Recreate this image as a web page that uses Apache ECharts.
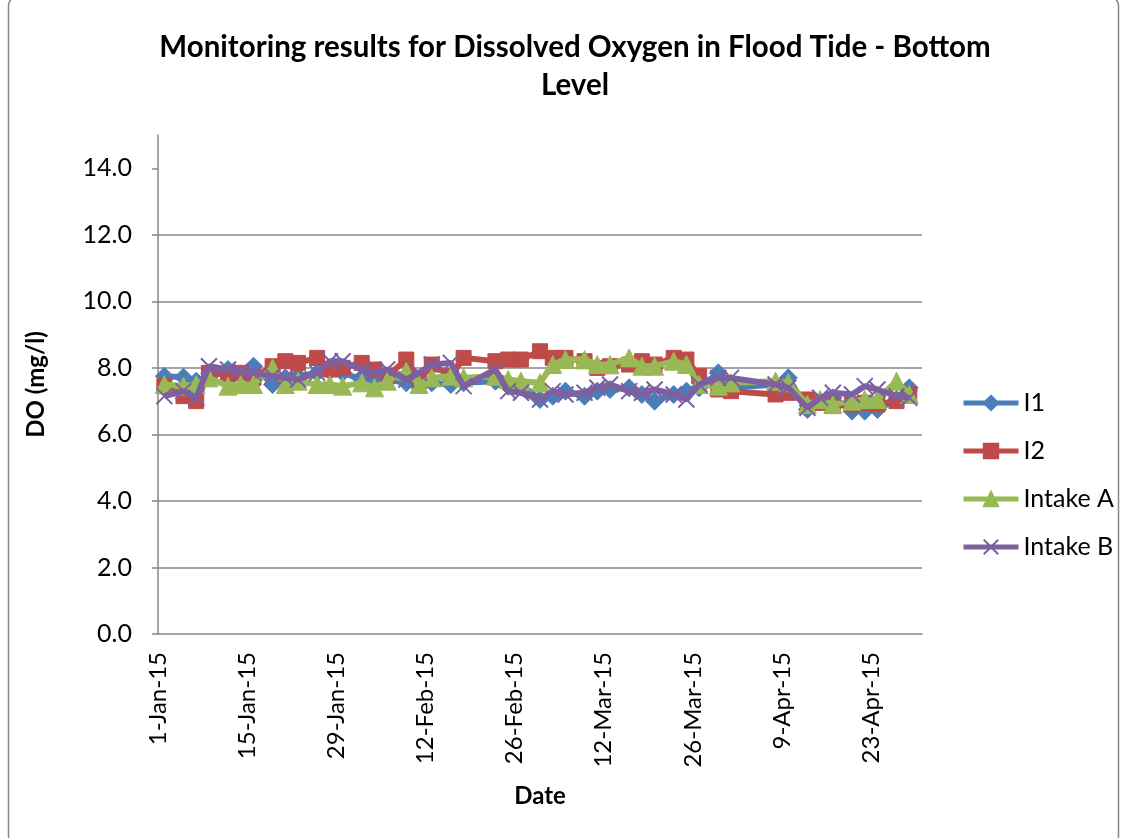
<!DOCTYPE html>
<html>
<head>
<meta charset="utf-8">
<script src="https://cdn.jsdelivr.net/npm/echarts@6/dist/echarts.min.js"></script>
<style>
html, body { margin: 0; padding: 0; background: #fff; }
#chart { width: 1128px; height: 838px; }
</style>
</head>
<body>
<div id="chart"></div>
<script>
// sampling dates (same for all four stations)
const dates = [
  "2015-01-02", "2015-01-05", "2015-01-07", "2015-01-09", "2015-01-12", "2015-01-14", "2015-01-16",
  "2015-01-19", "2015-01-21", "2015-01-23", "2015-01-26", "2015-01-28", "2015-01-30",
  "2015-02-02", "2015-02-04", "2015-02-06", "2015-02-09", "2015-02-11", "2015-02-13", "2015-02-16",
  "2015-02-18", "2015-02-23", "2015-02-25", "2015-02-27",
  "2015-03-02", "2015-03-04", "2015-03-06", "2015-03-09", "2015-03-11", "2015-03-13", "2015-03-16",
  "2015-03-18", "2015-03-20", "2015-03-23", "2015-03-25", "2015-03-27", "2015-03-30",
  "2015-04-01", "2015-04-08", "2015-04-10", "2015-04-13", "2015-04-15", "2015-04-17", "2015-04-20",
  "2015-04-22", "2015-04-24", "2015-04-27", "2015-04-29",
];
const i1 = [
  7.75, 7.72, 7.6, 7.7, 7.95, 7.8, 8.05, 7.5, 7.7, 7.75, 7.85, 7.9, 7.85,
  7.65, 7.6, 7.65, 7.55, 7.6, 7.55, 7.5, 7.55, 7.6, 7.45, 7.5,
  7.05, 7.15, 7.3, 7.15, 7.3, 7.35, 7.4, 7.2, 7.0, 7.2, 7.3, 7.4, 7.85,
  7.4, 7.5, 7.7, 6.75, 7.0, 7.1, 6.7, 6.7, 6.75, 7.05, 7.4,
];
const i2 = [
  7.45, 7.15, 7.0, 7.85, 7.8, 7.85, 7.7, 8.05, 8.2, 8.15, 8.3, 7.95, 8.0,
  8.15, 7.95, 7.75, 8.25, 7.6, 8.1, 7.75, 8.3, 8.2, 8.25, 8.25,
  8.5, 8.3, 8.3, 8.2, 8.0, 8.05, 8.1, 8.2, 8.1, 8.3, 8.25, 7.75, 7.35,
  7.3, 7.2, 7.25, 7.05, 6.95, 6.85, 6.9, 6.95, 6.9, 7.0, 7.2,
];
const intakeA = [
  7.5, 7.45, 7.5, 7.7, 7.45, 7.5, 7.5, 8.0, 7.5, 7.6, 7.5, 7.5, 7.45,
  7.55, 7.4, 7.6, 7.9, 7.5, 7.7, 7.75, 7.7, 7.75, 7.65, 7.6,
  7.55, 8.1, 8.25, 8.25, 8.1, 8.1, 8.3, 8.05, 8.05, 8.2, 8.1, 7.5, 7.45,
  7.55, 7.6, 7.55, 6.9, 7.05, 6.9, 7.0, 7.05, 7.05, 7.6, 7.2,
];
const intakeB = [
  7.15, 7.3, 7.1, 8.05, 7.95, 7.9, 7.85, 7.75, 7.7, 7.65, 7.85, 8.2, 8.2,
  7.95, 7.85, 7.95, 7.65, 7.85, 8.1, 8.15, 7.45, 7.95, 7.3, 7.25,
  7.05, 7.3, 7.2, 7.25, 7.4, 7.5, 7.3, 7.25, 7.35, 7.2, 7.05, 7.5, 7.7,
  7.7, 7.5, 7.4, 6.8, 7.1, 7.25, 7.2, 7.45, 7.35, 7.15, 7.1,
];
const xTickLabels = ["1-Jan-15", "15-Jan-15", "29-Jan-15", "12-Feb-15", "26-Feb-15",
  "12-Mar-15", "26-Mar-15", "9-Apr-15", "23-Apr-15"];
const yTicks = [0, 2, 4, 6, 8, 10, 12, 14];

const GRAY = "#878787";
const FONT = "Lato, 'Liberation Sans', sans-serif";
const day0 = Date.UTC(2015, 0, 1);
const dayOf = (s) => (Date.parse(s) - day0) / 86400000;

function line(name, values, color, symbol, size, z, itemStyle) {
  return {
    name,
    type: "line",
    z,
    data: dates.map((d, i) => [dayOf(d), values[i]]),
    symbol,
    symbolSize: size,
    showSymbol: true,
    clip: false,
    lineStyle: { color, width: 6 },
    itemStyle: Object.assign({ color, borderColor: color, borderWidth: 1 }, itemStyle),
    emphasis: { disabled: true },
  };
}

const chart = echarts.init(document.getElementById("chart"));
chart.setOption({
  animation: false,
  textStyle: { fontFamily: FONT, color: "#000" },
  title: {
    text: "Monitoring results for Dissolved Oxygen in Flood Tide - Bottom\nLevel",
    left: 570,
    top: 23,
    textAlign: "center",
    textStyle: { fontFamily: FONT, fontSize: 29.5, fontWeight: "bold", lineHeight: 38, color: "#000" },
  },
  graphic: [{
    type: "rect",
    shape: { x: 8.5, y: -4, width: 1110, height: 850, r: 10 },
    style: { fill: "none", stroke: GRAY, lineWidth: 1.5 },
    silent: true,
  }],
  legend: {
    orient: "vertical",
    left: 956,
    top: 385,
    itemWidth: 55,
    itemHeight: 18,
    itemGap: 22,
    lineStyle: { width: 5 },
    textStyle: { fontFamily: FONT, fontSize: 25, lineHeight: 26, color: "#000" },
  },
  grid: { left: 158, right: 206, top: 135, bottom: 204 },
  xAxis: {
    type: "value",
    min: 0,
    max: 120,
    interval: 14,
    name: "Date",
    nameLocation: "middle",
    nameGap: 150,
    nameTextStyle: { fontFamily: FONT, fontSize: 24, fontWeight: "bold", color: "#000" },
    axisLine: { show: true, onZero: false, lineStyle: { color: GRAY, width: 1.5 } },
    axisTick: { show: false },
    splitLine: { show: false },
    axisLabel: {
      rotate: 90,
      margin: 18,
      fontSize: 24,
      color: "#000",
      showMaxLabel: false,
      formatter: (v) => xTickLabels[v / 14] || "",
    },
  },
  yAxis: {
    type: "value",
    min: 0,
    max: 15,
    interval: 2,
    name: "DO (mg/l)",
    nameLocation: "middle",
    nameGap: 110,
    nameTextStyle: { fontFamily: FONT, fontSize: 24, fontWeight: "bold", color: "#000" },
    axisLine: { show: true, lineStyle: { color: GRAY, width: 1.5 } },
    axisTick: { show: true, length: 6, customValues: yTicks, lineStyle: { color: GRAY, width: 1.5 } },
    axisLabel: {
      customValues: yTicks,
      margin: 26,
      fontSize: 25,
      color: "#000",
      formatter: (v) => v.toFixed(1),
    },
    splitLine: { show: true, showMinLine: false, showMaxLine: false, lineStyle: { color: GRAY, width: 1.5 } },
  },
  series: [
    line("I1", i1, "#4A7EBB", "diamond", 18, 2),
    line("I2", i2, "#BE4B48", "rect", 15, 3),
    line("Intake A", intakeA, "#98B954", "triangle", 18, 4),
    line("Intake B", intakeB, "#7D60A0", "path://M0,0L10,10M10,0L0,10", 16, 5,
      { color: "none", borderColor: "#7D60A0", borderWidth: 2 }),
  ],
});
</script>
</body>
</html>
